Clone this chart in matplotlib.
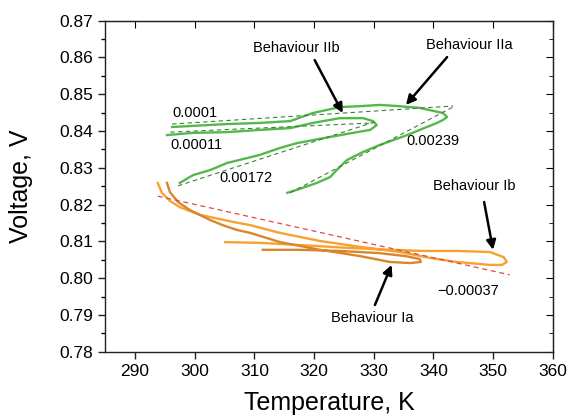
import matplotlib
matplotlib.use("Agg")
import matplotlib.pyplot as plt
from matplotlib.ticker import MultipleLocator

plt.rcParams["font.family"] = ["Liberation Sans", "DejaVu Sans"]

# --- Behaviour IIa (outer green loop) ---
t_2a = [296.2, 299.7, 305.4, 310.9, 316.0, 319.8, 324.3, 328.2, 331.0, 333.9,
        337.7, 341.6, 342.3, 341.6, 340.6, 337.7, 335.6, 331.0, 328.2, 325.5,
        323.8, 322.7, 320.5, 317.1, 315.5]
v_2a = [0.8411, 0.8414, 0.8419, 0.8422, 0.8427, 0.8449, 0.8465, 0.8468, 0.8471, 0.8468,
        0.8463, 0.8449, 0.8438, 0.8430, 0.8422, 0.8403, 0.8389, 0.8362, 0.8343, 0.8321,
        0.8294, 0.8275, 0.8259, 0.8240, 0.8232]

# --- Behaviour IIb (inner green loop) ---
t_2b = [295.35, 299.7, 305.4, 310.9, 316.0, 319.8, 324.3, 328.2, 329.9, 330.5,
        329.4, 327.2, 322.7, 317.1, 314.3, 310.9, 305.4, 302.6, 299.7, 297.5]
v_2b = [0.8389, 0.8395, 0.8397, 0.8403, 0.8408, 0.8422, 0.8435, 0.8435, 0.8427, 0.8416,
        0.8403, 0.8397, 0.8384, 0.8367, 0.8354, 0.8335, 0.8313, 0.8294, 0.8280, 0.8259]

# --- Behaviour Ib (light orange) ---
t_1b = [293.8, 294.5, 295.85, 297.5, 300.9, 306.4, 309.3, 314.3, 321.0, 327.7,
        334.4, 339.4, 343.9, 349.5, 351.5, 352.3, 351.8, 349.5, 343.9, 338.2,
        332.7, 326.0, 317.6, 310.9, 305.1]
v_1b = [0.8259, 0.8232, 0.8210, 0.8193, 0.8172, 0.8153, 0.8144, 0.8123, 0.8101, 0.8085,
        0.8071, 0.8055, 0.8044, 0.8036, 0.8036, 0.8044, 0.8057, 0.8071, 0.8074, 0.8074,
        0.8077, 0.8082, 0.8090, 0.8096, 0.8098]

# --- Behaviour Ia (dark orange) ---
t_1a = [295.35, 295.85, 297.2, 299.2, 302.6, 304.7, 307.1, 309.3, 314.3, 321.0,
        327.7, 332.7, 336.1, 337.9, 337.7, 335.3, 331.0, 324.3, 317.6, 311.4]
v_1a = [0.8259, 0.8234, 0.8207, 0.8185, 0.8158, 0.8144, 0.8131, 0.8123, 0.8098, 0.8077,
        0.8060, 0.8044, 0.8041, 0.8044, 0.8052, 0.8060, 0.8068, 0.8074, 0.8077, 0.8077]

# linear fits: (T start, V start, T end, V end), slope label
fit_labels = ["0.0001", "0.00011", "0.00172", "0.00239"]
fit_t0 = [296.2, 295.9, 297.2, 316.0]
fit_v0 = [0.8419, 0.8397, 0.8251, 0.8232]
fit_t1 = [343.3, 329.9, 330.2, 343.6]
fit_v1 = [0.8468, 0.8422, 0.8425, 0.8468]
fit_label_pos = [(296.2, 0.8449), (296.0, 0.8362), (304.2, 0.8272), (335.4, 0.8373)]

red_label = "\u22120.00037"
red_t = [293.8, 352.8]
red_v = [0.8223, 0.8009]

GREEN = "#55b84a"
ORANGE_L = "#f6a233"
ORANGE_D = "#d9862b"

fig = plt.figure(figsize=(5.69, 4.18), dpi=100)
ax = fig.add_axes([0.1849, 0.1586, 0.7865, 0.7919])

ax.plot(t_2a, v_2a, color=GREEN, lw=1.7, solid_joinstyle="round")
ax.plot(t_2b, v_2b, color=GREEN, lw=1.7, solid_joinstyle="round")
ax.plot(t_1b, v_1b, color=ORANGE_L, lw=1.7, solid_joinstyle="round")
ax.plot(t_1a, v_1a, color=ORANGE_D, lw=1.7, solid_joinstyle="round")

for t0, v0, t1, v1 in zip(fit_t0, fit_v0, fit_t1, fit_v1):
    ax.plot([t0, t1], [v0, v1], color="#3f7f3a", lw=0.8, ls=(0, (4, 3)))
ax.plot(red_t, red_v, color="#e04848", lw=0.9, ls=(0, (4, 3)))

for lbl, (tx, vy) in zip(fit_labels, fit_label_pos):
    ax.text(tx, vy, lbl, fontsize=10.5, ha="left", va="center")
ax.text(340.6, 0.7965, red_label, fontsize=10.5, ha="left", va="center")

arrow = dict(arrowstyle="-|>", color="black", lw=1.8, mutation_scale=14,
             shrinkA=0, shrinkB=0)
ax.annotate("", xy=(324.8, 0.8449), xytext=(320.1, 0.8593), arrowprops=arrow)
ax.annotate("", xy=(335.4, 0.8471), xytext=(342.3, 0.8601), arrowprops=arrow)
ax.annotate("", xy=(350.0, 0.8077), xytext=(348.5, 0.8207), arrowprops=arrow)
ax.annotate("", xy=(333.0, 0.8036), xytext=(330.2, 0.7927), arrowprops=arrow)
ax.text(317.0, 0.8626, "Behaviour IIb", fontsize=10.5, ha="center", va="center")
ax.text(346.1, 0.8634, "Behaviour IIa", fontsize=10.5, ha="center", va="center")
ax.text(346.8, 0.8250, "Behaviour Ib", fontsize=10.5, ha="center", va="center")
ax.text(329.7, 0.7891, "Behaviour Ia", fontsize=10.5, ha="center", va="center")

ax.set_xlim(285, 360)
ax.set_ylim(0.78, 0.87)
ax.xaxis.set_major_locator(MultipleLocator(10))
ax.yaxis.set_major_locator(MultipleLocator(0.01))
ax.yaxis.set_minor_locator(MultipleLocator(0.005))
ax.yaxis.set_major_formatter(plt.FormatStrFormatter("%.2f"))
ax.tick_params(axis="both", which="major", labelsize=12.5, length=5, width=1,
               direction="out", color="#222222")
ax.tick_params(axis="y", which="minor", length=3, width=1, direction="out")

# inward ticks on top and right
top = ax.secondary_xaxis("top")
top.set_xticks(range(290, 361, 10))
top.tick_params(direction="in", length=5, labeltop=False)
top.set_xticklabels([])
right = ax.secondary_yaxis("right")
right.yaxis.set_major_locator(MultipleLocator(0.01))
right.yaxis.set_minor_locator(MultipleLocator(0.005))
right.tick_params(which="major", direction="in", length=5, labelright=False)
right.tick_params(which="minor", direction="in", length=3)
right.set_yticklabels([])

for sp in ax.spines.values():
    sp.set_linewidth(1.0)
    sp.set_color("#222222")

ax.set_xlabel("Temperature, K", fontsize=18, labelpad=9)
ax.set_ylabel("Voltage, V", fontsize=18, labelpad=19)

fig.savefig("out.png", dpi=100)
